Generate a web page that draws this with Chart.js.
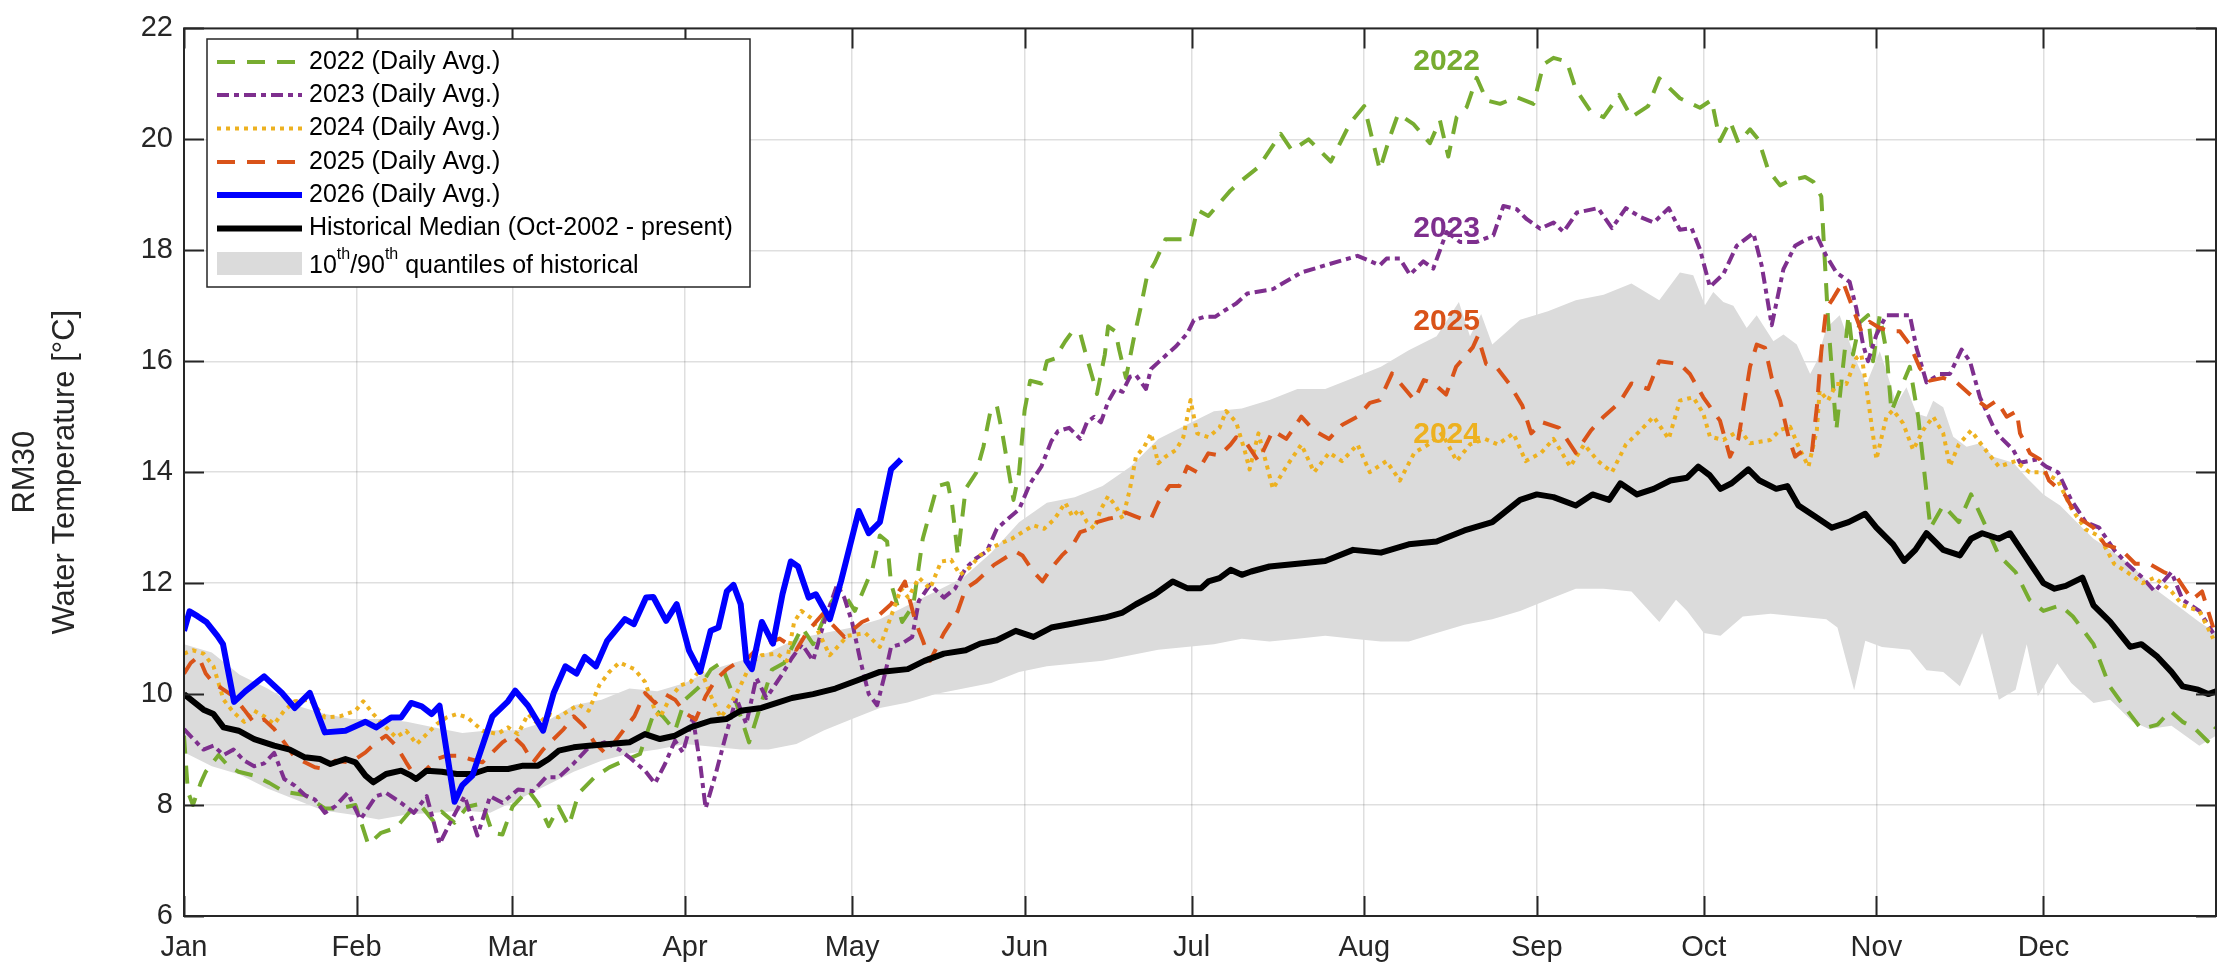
<!DOCTYPE html>
<html>
<head>
<meta charset="utf-8">
<title>RM30 Water Temperature</title>
<script src="https://cdn.jsdelivr.net/npm/chart.js@4.4.1/dist/chart.umd.min.js"></script>
<style>
  html, body { margin: 0; padding: 0; background: #fff; }
  #wrap { width: 2218px; height: 964px; }
</style>
</head>
<body>
<div id="wrap"><canvas id="chart" width="2218" height="964"></canvas></div>
<script>
// x = day of year (0 = Jan 1), y = daily average water temperature [°C]

const monthNames = ['Jan', 'Feb', 'Mar', 'Apr', 'May', 'Jun', 'Jul', 'Aug', 'Sep', 'Oct', 'Nov', 'Dec'];
const monthStartDays = [0, 31, 59, 90, 120, 151, 181, 212, 243, 273, 304, 334];
const yTickValues = [6, 8, 10, 12, 14, 16, 18, 20, 22];

const days2022 = [0,0.7,1.6,3,3.9,6.2,8,9.8,12.6,15.3, 18,21.7,25.3,28,30.8,33.1,35.4,38.1,40.8,42.7,
  44.9,46.3,48.6,50.9,53.6,55.4,57.2,59,61.8,63.6, 65.5,67.3,69.1,70.9,73.7,76.4,79.1,81.9,84.6,86,
  88.2,90,92.8,94.6,96.4,99.2,101.5,102.8,105.6,107.8, 111,113,116,118,120.5,123.7,125,126.3,127,129,
  131,132.7,134,135.3,137.2,138,139,140.4,142.3,143.6, 144.9,146,147,148,149,150,151,152,154,155,
  156.4,158.3,159.6,161,162.2,163.5,164,165.4,166,167.3, 168,169.2,170.5,171.8,173,174.4,176.3,178.8,180.8,182,
  184,186,188,190,193,197,199,202,206,209.5, 212,214.8,216.6,218.1,220.8,223.8,225.6,227.1,228.6,230.4,
  232.2,234,236.4,239.4,242.4,244.2,246,248.4,250,252.7, 255,257.8,260,263,265,268.7,272.3,274.4,275.9,277.7,
  279.2,281.3,282.8,284.6,286.7,288.5,291.2,292.7,294.1,295.3, 296.8,298,299,299.8,301,302.5,303.4,304.6,305.8,306.7,
  308.2,310,311.5,312.5,313.7,316,318.8,321,323.9,326, 329,331.5,334,337,339.3,343,345.9,348.7,351.6,354.5,
  356.8,359,361,363.5,365];
const temp2022 = [9.25,8.24,8.0,8.4,8.6,8.9,8.7,8.6,8.53,8.4, 8.24,8.18,7.94,7.94,8.0,7.29,7.5,7.59,7.91,7.97,
  7.7,7.88,7.68,7.97,8.03,7.5,7.47,7.97,8.27,8.03, 7.62,7.97,7.62,8.21,8.5,8.68,8.8,8.92,9.72,9.6,
  9.34,9.9,10.15,10.44,10.56,9.84,9.13,9.55,10.44,10.56, 11.2,10.9,11.62,11.9,11.5,12.27,12.86,12.75,12.0,11.3,
  11.6,12.8,13.28,13.75,13.8,13.4,12.5,13.7,13.99,14.46, 15.12,15.2,14.7,14.1,13.5,13.99,15.12,15.65,15.6,16.0,
  16.05,16.36,16.54,16.5,16.05,15.6,15.41,16.12,16.63,16.54, 16.2,15.7,16.36,16.95,17.54,17.78,18.2,18.2,18.2,18.73,
  18.62,18.85,19.08,19.26,19.5,20.1,19.8,20.0,19.6,20.3, 20.6,19.45,20.04,20.46,20.28,19.93,20.34,19.69,20.4,20.58,
  21.11,20.7,20.64,20.76,20.64,21.35,21.47,21.4,20.9,20.5, 20.4,20.8,20.4,20.6,21.1,20.74,20.57,20.71,19.97,20.33,
  19.94,20.18,20.0,19.44,19.17,19.26,19.32,19.23,18.97,16.77, 14.76,15.9,16.83,16.12,16.7,16.83,16.0,16.83,16.18,15.1,
  15.47,15.9,15.0,14.1,13.0,13.4,13.1,13.6,12.97,12.5, 12.2,11.7,11.5,11.6,11.4,10.9,10.14,9.75,9.37,9.45,
  9.7,9.5,9.4,9.15,9.4];

const days2023 = [0,1.6,3.5,5.3,7.1,8.9,10.8,12.6,14.4,16.2, 18,19.9,21.7,23.5,25.3,27.2,29.4,31.7,34.5,36.3,
  39,41.3,43.6,45.9,48.1,50.4,52.7,55,57.2,60, 62.7,65,67.3,70,72.7,75.5,78.2,80,82.8,84.6,
  86.4,88.2,89.6,91.4,92.8,93.7,95.5,97.4,99.2,101, 102.8,104.6,107.4,109.2,111,113,115,117.3,118.6,120,
  121.5,123,124.5,126,127,128.8,130.8,132,134,136.5, 138.5,140.4,142.3,144.2,146,148,150,152,154,155.8,
  157,159,161,162.2,163.5,164.7,166,167.3,168.6,169.9, 171,172.8,173.7,175,176.3,178.2,180.2,181.4,183.3,185.2,
  187,189,191,195.6,200.7,205.7,210.8,214.8,216,218.4, 220.2,222.6,224.4,226.8,229.2,232.2,235.2,237,239.4,241.2,
  243.6,246,247.8,250.2,254,256.5,259,261.6,264,266.7, 268.7,270.8,272.3,274.1,276.5,278.9,281.9,283.4,285.2,287.3,
  289.4,291.5,293.3,295,296.8,299.2,300.4,301.6,302.5,304, 305.8,310,311.2,313,315.4,317.2,319.3,320.8,322.6,325,
  326.2,328.6,329.8,332.8,334.5,336.6,339,341.6,344,346.7, 349,351.8,354,357,359,362,364.5];
const temp2023 = [9.37,9.2,9.0,9.07,8.9,9.0,8.8,8.7,8.75,8.94, 8.47,8.35,8.18,8.1,7.86,7.98,8.22,7.74,8.16,8.22,
  8.04,7.86,8.16,7.3,7.74,8.16,7.45,8.16,8.04,8.28, 8.25,8.5,8.5,8.75,9.04,9.13,9.0,8.86,8.62,8.39,
  8.74,9.16,8.95,9.58,8.68,7.94,8.56,9.28,9.93,9.46, 10.29,9.93,10.35,10.65,10.9,10.6,11.3,11.97,11.74,11.3,
  10.6,10.0,9.8,10.4,10.85,10.9,11.03,11.68,11.97,11.74, 11.9,12.27,12.45,12.57,12.98,13.16,13.33,13.8,14.1,14.56,
  14.74,14.8,14.6,14.9,15.0,14.9,15.27,15.5,15.45,15.72, 15.75,15.5,15.86,15.98,16.1,16.27,16.5,16.74,16.8,16.8,
  16.92,17.04,17.22,17.3,17.6,17.75,17.9,17.73,17.85,17.85, 17.56,17.8,17.67,18.33,18.15,18.15,18.27,18.8,18.74,18.56,
  18.39,18.5,18.33,18.68,18.76,18.4,18.76,18.6,18.5,18.76, 18.37,18.4,18.02,17.34,17.57,18.08,18.31,17.72,16.65,17.66,
  18.08,18.2,18.26,17.9,17.6,17.43,16.95,16.3,16.0,16.48, 16.83,16.83,16.24,15.62,15.77,15.77,16.21,16.0,15.35,14.82,
  14.64,14.4,14.17,14.23,14.1,14.0,13.5,13.1,13.0,12.6, 12.35,12.1,11.85,12.2,11.7,11.5,11.1];

const days2024 = [0,1.6,3.5,5.3,7.1,8.9,10.8,12.6,14.4,16.2, 18,19.9,22.6,25.3,28,30.8,32.2,34,36.3,38.1,
  39.9,41.8,43.6,45.4,47.2,49,50.9,53.6,56.3,58.2, 60,61.8,63.6,65.5,67.3,69.1,70.9,72.7,74.6,76.4,
  78.2,80.9,82.8,84.6,85.5,87.3,89.2,91,92.8,94.6, 96.4,98.3,100,101.9,103.7,106.5,108.3,109.6,110.9,112.8,
  116,119.2,122.4,125,128.8,130.1,132,134,136,137.8, 139.4,141,143,144.9,146.8,148.7,150.6,152.6,154.5,156.4,
  158.3,159.6,160.9,162.2,163.5,164.7,166,167.3,168.6,169.9, 171,172.5,173.7,175,176.3,178.2,179.5,180.8,182,184,
  186,187.2,189,190.5,191.4,193,195.6,198,200.7,203, 205.7,208,210.8,213,216,218.4,221,223.5,226,228.6,
  231,233.7,236,238.8,241,243.8,246,249,251.5,254, 256.5,259,261.6,264,266.7,268.7,271.1,272.9,274.1,276.5,
  279.5,281.3,284.9,286.7,288.5,290.3,291.8,293.3,293.8,295.3, 296.8,298.6,300.4,301.3,302.2,304,305.8,307,308.8,310.6,
  312.4,314.2,316,317.2,318.8,321,324,326,329,331.5, 334,336.6,339,341.6,344,346.7,349,351.8,354,357,
  359,362,364.5];
const temp2024 = [10.73,10.79,10.73,10.5,9.9,9.67,9.5,9.7,9.6,9.46, 9.7,9.87,9.9,9.58,9.6,9.7,9.87,9.64,9.4,9.22,
  9.34,9.1,9.28,9.46,9.58,9.64,9.58,9.34,9.28,9.4, 9.28,9.64,9.46,9.64,9.58,9.7,9.81,9.7,10.16,10.4,
  10.57,10.45,10.22,9.7,9.58,9.93,10.16,10.22,10.45,9.98, 9.58,9.84,10.16,10.57,10.7,10.73,10.6,11.3,11.5,11.36,
  10.7,11.05,11.1,10.85,11.9,11.74,12.1,11.9,12.39,12.42, 12.15,12.27,12.5,12.63,12.72,12.8,12.92,13.04,12.98,13.16,
  13.45,13.2,13.33,13.1,12.98,13.33,13.57,13.4,13.16,13.69, 14.28,14.46,14.7,14.16,14.28,14.4,14.63,15.3,14.7,14.63,
  14.8,15.1,14.9,14.4,14.05,14.7,13.7,14.1,14.5,14.0, 14.35,14.2,14.5,14.0,14.2,13.85,14.35,14.5,14.7,14.2,
  14.5,14.6,14.5,14.7,14.2,14.35,14.6,14.1,14.5,14.2, 14.0,14.5,14.75,15.0,14.6,15.29,15.35,15.06,14.64,14.58,
  14.76,14.52,14.58,14.76,14.82,14.4,14.1,14.76,15.47,15.29, 15.59,15.59,16.06,16.12,15.53,14.23,15.0,15.12,14.88,14.4,
  14.76,15.0,14.7,14.11,14.5,14.75,14.35,14.1,14.2,14.0, 14.0,13.85,13.35,12.97,12.85,12.35,12.2,12.0,12.1,11.85,
  11.6,11.5,11.0];

const days2025 = [0,1.2,2.6,3.9,5.3,7.1,8.9,10.8,12.6,14.4, 16.2,18,19.9,21.7,23.5,25.3,27.2,29.9,32.6,34.5,
  36.3,38.1,39.9,41.8,43.6,45.4,47.2,49.5,51.3,53.6, 55.4,57.2,59,60.9,62.7,64.5,66.4,68.2,70,71.8,
  73.7,75.5,77.3,79.1,80.9,82.8,84.6,86.4,88.2,90, 91.9,93.7,95.5,97.4,99.2,101,102.8,104.6,107,110,
  112,114.7,118.6,121.8,125,127,129.5,131.4,132.7,134, 136.5,137.8,139,140.4,142.3,143.6,145.5,147.4,149.4,150.6,
  152.6,154.2,155.8,157.7,159.6,161,162.8,164,166,168, 169.2,171,172,173.7,175,177,178.8,180.2,182,184,
  186,188,189,191,193,195.6,198,200.7,203,205.7, 208,210.8,213,214.8,217,221,222.7,224.5,226.7,228.5,
  231.5,232.4,233.9,235.7,238,240.4,242,244,247,250, 252.7,255,257.8,260,263,265,268.7,270.5,272.9,275.9,
  277.7,279.2,281.3,282.5,284,285.2,286.7,288.2,289.4,290.9, 292.4,293.3,294.1,295,296.2,298,299.8,301.3,302.8,304.6,
  306.4,308.2,310,311.8,313.6,316,318.4,321.4,323.8,325.6, 327.4,329.2,329.8,331.6,333.4,335,337.8,340,343,345,
  348,350.5,353,355.6,358,360.7,362.5,364.5];
const temp2025 = [10.37,10.56,10.68,10.37,10.2,10.08,9.96,9.72,9.48,9.54, 9.37,9.13,8.86,8.77,8.68,8.65,8.8,8.77,8.95,9.13,
  9.25,9.07,8.77,8.47,8.65,8.83,8.89,8.89,8.83,8.77, 8.95,9.13,9.25,9.07,8.77,9.0,9.19,9.37,9.6,9.43,
  9.13,8.95,9.13,9.37,9.6,10.02,9.84,10.0,9.9,9.66, 9.54,9.96,10.26,10.44,10.56,10.62,10.8,10.91,11.0,10.8,
  11.13,11.44,11.03,11.3,11.44,11.62,12.03,11.3,10.97,10.6, 11.1,11.3,11.5,11.9,12.03,12.15,12.33,12.45,12.57,12.5,
  12.2,12.03,12.27,12.5,12.68,12.92,12.98,13.1,13.16,13.2, 13.27,13.2,13.16,13.16,13.45,13.75,13.75,14.1,14.0,14.34,
  14.3,14.5,14.63,14.5,14.2,14.75,14.6,15.0,14.75,14.6, 14.85,15.0,15.25,15.3,15.78,15.3,15.66,15.6,15.4,15.9,
  16.25,16.45,15.95,15.9,15.6,15.2,14.7,14.9,14.8,14.35, 14.75,15.0,15.25,15.6,15.5,16.0,15.95,15.77,15.35,14.93,
  14.28,14.6,15.9,16.3,16.24,15.7,15.29,14.64,14.28,14.4, 14.35,15.17,16.18,16.95,17.13,17.43,16.95,16.54,16.71,16.6,
  16.54,16.54,16.3,15.88,15.65,15.7,15.62,15.35,15.17,15.29, 15.0,15.1,14.7,14.34,14.23,13.85,13.6,13.2,13.0,12.7,
  12.6,12.35,12.35,12.2,12.1,11.7,11.85,11.2];

const days2026 = [0,1,2.5,4,6,7,9,11,14.4,17.6, 19.9,22.6,25.3,29,32.6,34.5,37.2,39,40.8,42.7,
  44.5,45.9,48.6,50,51.8,55.4,58.2,59.5,61.8,64.5, 66.4,68.5,70.5,72,74,76,79.2,80.8,83,84.3,
  86.6,88.5,90.7,92.7,94.6,96,97.5,98.7,100,101, 102,103.8,105.8,107.5,109,110.3,112.2,113.5,116,118,
  121.2,123,125,127,128.8];
const temp2026 = [11.14,11.49,11.4,11.3,11.05,10.9,9.86,10.05,10.32,10.02, 9.75,10.02,9.31,9.34,9.5,9.4,9.58,9.58,9.84,9.78,
  9.64,9.79,8.06,8.36,8.53,9.6,9.87,10.06,9.79,9.34, 10.02,10.5,10.37,10.67,10.5,10.96,11.35,11.26,11.74,11.75,
  11.32,11.62,10.79,10.4,11.14,11.2,11.85,11.97,11.62,10.6, 10.45,11.3,10.91,11.8,12.39,12.3,11.74,11.8,11.35,12.03,
  13.3,12.9,13.1,14.05,14.23];

const daysMedian = [0,3.5,5.3,7.1,9.8,12.6,16.2,19,21.7,24.4, 26.3,29,30.8,32.6,34,36.3,39,40.8,41.7,43.6,
  46.3,49,51.8,54.5,58.2,60.9,63.6,65.5,67.3,70, 72.7,76.4,80,82.8,85.5,88.2,91,94.6,97.4,100,
  103.7,106.5,109.2,113,117,121,125,130,133,136.5, 140.4,143,146,149.4,152.6,155.8,159,162.2,165.4,168.6,
  171,174.4,177.6,180.2,182.7,184,186,188,190,191.7, 195,200,205,210,215,220,225,230,235,240,
  243,246,250,253,256,258,261,264,267,270, 272,274,276,278,281,283,286,288,290,293,
  296,299,302,304,307,309,311,313,316,319, 321,323,326,328,330,332,334,336,338,341,
  343,346,349.6,351.6,354.5,357,359,361.8,363.6,365];
const tempMedian = [10.0,9.72,9.64,9.4,9.34,9.19,9.07,9.0,8.86,8.83, 8.74,8.83,8.77,8.53,8.41,8.56,8.62,8.53,8.47,8.62,
  8.6,8.56,8.56,8.65,8.65,8.71,8.71,8.83,8.98,9.04, 9.07,9.1,9.13,9.28,9.19,9.25,9.4,9.52,9.55,9.7,
  9.75,9.84,9.93,10.0,10.1,10.25,10.4,10.45,10.6,10.73, 10.79,10.91,10.97,11.14,11.03,11.2,11.26,11.32,11.38,11.47,
  11.62,11.8,12.03,11.91,11.91,12.03,12.09,12.24,12.15,12.21, 12.3,12.35,12.4,12.6,12.55,12.7,12.75,12.95,13.1,13.5,
  13.6,13.55,13.4,13.6,13.5,13.8,13.6,13.7,13.85,13.9, 14.1,13.95,13.7,13.8,14.05,13.85,13.7,13.75,13.4,13.2,
  13.0,13.1,13.25,13.0,12.7,12.4,12.6,12.9,12.6,12.5, 12.8,12.9,12.8,12.9,12.6,12.3,12.0,11.9,11.95,12.1,
  11.6,11.3,10.85,10.9,10.67,10.4,10.14,10.08,10.0,10.05];

// 90th percentile (upper edge of the shaded band)
const daysUpper = [0,5,10,15,20,25,30,35,40,45, 50,55,60,65,70,75,80,85,90,95,
  100,105,110,115,120,125,130,135,140,145, 150,155,160,165,170,175,180,185,190,195,
  200,205,210,215,220,225,229,231,233,235, 240,245,250,255,260,265,268.7,271.1,273.2,274.7,
  276.5,278.3,280.7,282.5,285.5,287.3,289.7,292.1,293.3,295, 297.4,300.4,302.2,304.6,305.8,307.6,309.4,311.2,313,314.2,
  316,317.8,320.2,322.6,325,328.6,331,334,337,340, 343,346,350,354,358,362,365];
const tempUpper = [10.9,10.75,10.35,10.1,9.8,9.65,9.55,9.55,9.5,9.4, 9.3,9.35,9.35,9.5,9.8,9.9,10.1,10.05,10.2,10.45,
  10.6,10.75,11.0,11.1,11.2,11.35,11.6,11.85,12.1,12.55, 13.1,13.45,13.55,13.75,14.1,14.6,14.85,15.1,15.15,15.3,
  15.5,15.5,15.7,15.9,16.2,16.45,17.07,16.45,16.85,16.3, 16.75,16.9,17.1,17.2,17.4,17.1,17.6,17.55,17.01,17.25,
  17.07,17.0,16.6,16.83,16.36,16.48,16.3,15.77,16.0,16.6, 16.83,16.0,15.59,16.18,15.82,15.23,15.53,15.06,15.0,15.29,
  15.17,14.64,14.46,14.52,14.28,14.17,13.9,13.6,13.4,13.1, 12.8,12.6,12.3,11.9,11.6,11.3,11.1];

// 10th percentile (lower edge of the shaded band)
const daysLower = [0,5,10,15,20,25,30,35,40,45, 50,55,60,65,70,75,80,85,90,95,
  100,105,110,115,120,125,130,135,140,145, 150,155,160,165,170,175,180,185,190,195,
  200,205,210,215,220,225,230,235,240,245, 250,255,260,265,268,270,273,276,280,285,
  290,295,297,300,302,305,310,313,316,319, 321,323,326,329,331,333,336.5,339,343,346,
  350,353,357,362,365];
const tempLower = [8.95,8.7,8.55,8.3,8.1,7.9,7.83,7.74,7.83,7.86, 7.9,7.86,8.1,8.35,8.6,8.8,8.93,9.0,9.1,9.05,
  9.0,9.0,9.1,9.35,9.55,9.75,9.85,10.0,10.1,10.2, 10.4,10.5,10.55,10.6,10.7,10.8,10.85,10.9,11.0,10.95,
  11.0,11.05,11.0,10.95,10.95,11.1,11.25,11.35,11.5,11.7, 11.9,11.9,11.85,11.3,11.7,11.5,11.1,11.05,11.4,11.45,
  11.4,11.35,11.2,10.07,10.96,10.85,10.8,10.43,10.4,10.14, 10.6,11.1,9.9,10.08,10.9,9.96,10.55,10.2,9.84,9.9,
  9.5,9.37,9.43,9.07,9.25];

// in-plot year annotations (text, colour, value on the y axis)
const yearLabels = ['2022', '2023', '2025', '2024'];
const yearLabelColors = ['#77AC30', '#7E2F8E', '#D95319', '#EDB120'];
const yearLabelTemps = [21.4, 18.39, 16.72, 14.68];
const yearLabelDay = 220.8;

const FONT = '"Liberation Sans", Arial, Helvetica, sans-serif';
const AXIS_COLOR = '#262626';

function toPoints(days, temps) {
  return days.map((d, i) => ({ x: d, y: temps[i] }));
}

// box around the plot + inward tick marks on all four sides (MATLAB style)
const boxPlugin = {
  id: 'box',
  afterDraw(chart) {
    const { ctx, chartArea: a, scales } = chart;
    const len = 20;
    ctx.save();
    ctx.strokeStyle = AXIS_COLOR;
    ctx.lineWidth = 2;
    ctx.beginPath();
    monthStartDays.forEach(d => {
      const x = Math.round(scales.x.getPixelForValue(d)) + 0.5;
      ctx.moveTo(x, a.bottom); ctx.lineTo(x, a.bottom - len);
      ctx.moveTo(x, a.top); ctx.lineTo(x, a.top + len);
    });
    yTickValues.forEach(v => {
      const y = Math.round(scales.y.getPixelForValue(v)) + 0.5;
      ctx.moveTo(a.left, y); ctx.lineTo(a.left + len, y);
      ctx.moveTo(a.right, y); ctx.lineTo(a.right - len, y);
    });
    ctx.stroke();
    ctx.strokeRect(a.left, a.top, a.right - a.left, a.bottom - a.top);
    ctx.restore();
  }
};

const yearLabelPlugin = {
  id: 'yearLabels',
  afterDatasetsDraw(chart) {
    const { ctx, scales } = chart;
    ctx.save();
    ctx.font = 'bold 30px ' + FONT;
    ctx.textBaseline = 'middle';
    ctx.textAlign = 'left';
    yearLabels.forEach((t, i) => {
      ctx.fillStyle = yearLabelColors[i];
      ctx.fillText(t, scales.x.getPixelForValue(yearLabelDay), scales.y.getPixelForValue(yearLabelTemps[i]));
    });
    ctx.restore();
  }
};

// legend box in the upper left corner
const legendPlugin = {
  id: 'matlabLegend',
  afterDraw(chart) {
    const ctx = chart.ctx;
    const box = { x: 207, y: 39, w: 543, h: 248 };
    const rowY = [62, 95, 128.5, 162, 195, 228.5, 266];
    const lineX0 = 217, lineX1 = 302, textX = 309;
    ctx.save();
    ctx.fillStyle = '#fff';
    ctx.fillRect(box.x, box.y, box.w, box.h);
    ctx.strokeStyle = AXIS_COLOR;
    ctx.lineWidth = 1.5;
    ctx.strokeRect(box.x, box.y, box.w, box.h);

    const order = ['2022 (Daily Avg.)', '2023 (Daily Avg.)', '2024 (Daily Avg.)', '2025 (Daily Avg.)',
      '2026 (Daily Avg.)', 'Historical Median (Oct-2002 - present)'];
    ctx.font = '25px ' + FONT;
    ctx.textBaseline = 'middle';
    order.forEach((label, i) => {
      const ds = chart.data.datasets.find(d => d.label === label);
      ctx.strokeStyle = ds.borderColor;
      ctx.lineWidth = ds.borderWidth;
      ctx.setLineDash(ds.borderDash || []);
      ctx.beginPath();
      ctx.moveTo(lineX0, rowY[i]);
      ctx.lineTo(lineX1, rowY[i]);
      ctx.stroke();
      ctx.setLineDash([]);
      ctx.fillStyle = '#000';
      ctx.fillText(label, textX, rowY[i]);
    });

    // shaded band entry with superscripts
    ctx.fillStyle = '#dbdbdb';
    ctx.fillRect(lineX0, 252, lineX1 - lineX0, 23);
    ctx.fillStyle = '#000';
    let x = textX;
    const y = rowY[6];
    const parts = [['10', false], ['th', true], ['/90', false], ['th', true], [' quantiles of historical', false]];
    parts.forEach(([t, sup]) => {
      ctx.font = (sup ? '16px ' : '25px ') + FONT;
      ctx.fillText(t, x, sup ? y - 11 : y);
      x += ctx.measureText(t).width;
    });
    ctx.restore();
  }
};

Chart.defaults.font.family = FONT;
Chart.defaults.color = AXIS_COLOR;

const gridStyle = { color: 'rgba(38,38,38,0.15)', lineWidth: 1.5, drawTicks: false };

new Chart(document.getElementById('chart'), {
  type: 'line',
  data: {
    datasets: [
      { label: '2026 (Daily Avg.)', data: toPoints(days2026, temp2026), borderColor: '#0000FF', borderWidth: 6 },
      { label: 'Historical Median (Oct-2002 - present)', data: toPoints(daysMedian, tempMedian), borderColor: '#000000', borderWidth: 6 },
      { label: '2025 (Daily Avg.)', data: toPoints(days2025, temp2025), borderColor: '#D95319', borderWidth: 4, borderDash: [18, 12] },
      { label: '2024 (Daily Avg.)', data: toPoints(days2024, temp2024), borderColor: '#EDB120', borderWidth: 4, borderDash: [4, 5] },
      { label: '2023 (Daily Avg.)', data: toPoints(days2023, temp2023), borderColor: '#7E2F8E', borderWidth: 4, borderDash: [12, 5, 5, 5] },
      { label: '2022 (Daily Avg.)', data: toPoints(days2022, temp2022), borderColor: '#77AC30', borderWidth: 4, borderDash: [18, 12] },
      { label: '90th quantile', data: toPoints(daysUpper, tempUpper), borderWidth: 0, borderColor: 'rgba(0,0,0,0)', backgroundColor: '#dbdbdb', fill: '+1' },
      { label: '10th quantile', data: toPoints(daysLower, tempLower), borderWidth: 0, borderColor: 'rgba(0,0,0,0)', fill: false }
    ]
  },
  options: {
    responsive: false,
    animation: false,
    devicePixelRatio: 1,
    layout: { padding: { top: 16, right: 2, left: 0, bottom: 0 } },
    elements: { point: { radius: 0, hoverRadius: 0 }, line: { tension: 0, borderJoinStyle: 'round' } },
    plugins: { legend: { display: false }, tooltip: { enabled: false } },
    scales: {
      x: {
        type: 'linear', min: 0, max: 365,
        afterBuildTicks: s => { s.ticks = monthStartDays.map(v => ({ value: v })); },
        afterFit: s => { s.height = 48; },
        ticks: {
          callback: v => monthNames[monthStartDays.indexOf(v)],
          font: { size: 29 }, padding: 15, autoSkip: false, maxRotation: 0, color: AXIS_COLOR
        },
        grid: gridStyle,
        border: { display: false }
      },
      y: {
        type: 'linear', min: 6, max: 22,
        afterBuildTicks: s => { s.ticks = yTickValues.map(v => ({ value: v })); },
        afterFit: s => { s.width = 184; },
        ticks: { font: { size: 29 }, padding: 11, color: AXIS_COLOR },
        grid: gridStyle,
        border: { display: false },
        title: {
          display: true,
          text: ['RM30', 'Water Temperature [°C]'],
          font: { size: 31, lineHeight: 1.29 },
          color: AXIS_COLOR,
          padding: { top: 5, bottom: 0 }
        }
      }
    }
  },
  plugins: [boxPlugin, yearLabelPlugin, legendPlugin]
});
</script>
</body>
</html>
